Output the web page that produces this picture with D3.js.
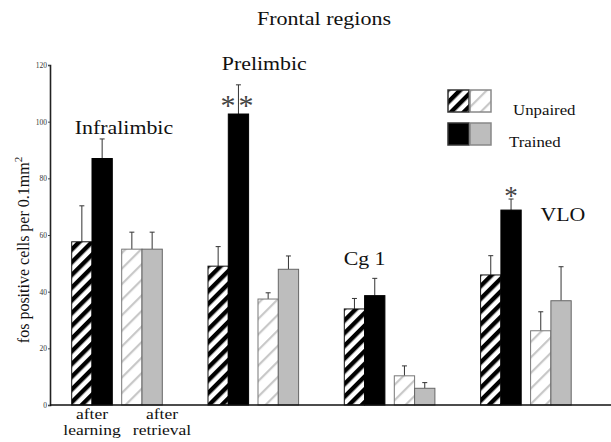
<!DOCTYPE html>
<html><head><meta charset="utf-8">
<script src="https://cdn.jsdelivr.net/npm/d3@7"></script>
<style>
body { margin: 0; background: #fff; }
svg { display: block; }
</style>
</head><body>
<svg id="chart" width="611" height="442"></svg>
<script>
// data
var regions = ["Infralimbic", "Prelimbic", "Cg 1", "VLO"];
var unpairedLearning = [57.6, 49.0, 33.9, 45.9];
var unpairedLearningErr = [12.7, 6.9, 3.7, 6.8];
var trainedLearning = [87.0, 102.7, 38.6, 68.8];
var trainedLearningErr = [6.9, 10.3, 6.1, 3.9];
var unpairedRetrieval = [55.0, 37.4, 10.3, 26.2];
var unpairedRetrievalErr = [6.0, 2.2, 3.5, 6.7];
var trainedRetrieval = [55.0, 47.9, 5.9, 36.8];
var trainedRetrievalErr = [6.0, 4.7, 2.0, 12.0];
var significance = ["", "**", "", "*"];
var yTicks = [0, 20, 40, 60, 80, 100, 120];
var phases = ["learning", "retrieval"];
var groups = ["unpaired", "trained"];
var phaseLabels = ["after learning", "after retrieval"];

var SERIF = "'Liberation Serif', 'Times New Roman', Times, serif";

var svg = d3.select('#chart').attr('font-family', SERIF);
var defs = svg.append('defs');

/* hatch patterns */
function hatch(id, period, width, color) {
    var p = defs.append('pattern')
        .attr('id', id)
        .attr('patternUnits', 'userSpaceOnUse')
        .attr('width', period).attr('height', period)
        .attr('patternTransform', 'rotate(45)');
    p.append('rect').attr('width', period).attr('height', period).attr('fill', '#fff');
    p.append('rect').attr('width', width).attr('height', period).attr('fill', color);
}
hatch('darkHatch', 9, 4.4, '#000');
hatch('lightHatch', 11, 2.2, '#c8c8c8');

var style = {
    learning: {
        unpaired: { fill: 'url(#darkHatch)', stroke: '#111' },
        trained: { fill: '#000', stroke: '#000' }
    },
    retrieval: {
        unpaired: { fill: 'url(#lightHatch)', stroke: '#777' },
        trained: { fill: '#bdbdbd', stroke: '#666' }
    }
};

var y = d3.scaleLinear().domain([0, 120]).range([405, 65]);
var xRegion = d3.scaleBand().domain(regions).range([71.7, 616.9]);
var xPhase = d3.scaleBand().domain(phases).range([0, 90.6]).paddingInner(0.188);
var xGroup = d3.scaleBand().domain(groups).range([0, xPhase.bandwidth()]);

var values = {
    learning: { unpaired: [unpairedLearning, unpairedLearningErr], trained: [trainedLearning, trainedLearningErr] },
    retrieval: { unpaired: [unpairedRetrieval, unpairedRetrievalErr], trained: [trainedRetrieval, trainedRetrievalErr] }
};

var bars = [];
regions.forEach(function (r, i) {
    phases.forEach(function (ph) {
        groups.forEach(function (g) {
            bars.push({ region: r, i: i, phase: ph, group: g,
                value: values[ph][g][0][i], err: values[ph][g][1][i] });
        });
    });
});

function barX(d) { return xRegion(d.region) + xPhase(d.phase) + xGroup(d.group); }

/* error bars first, bars on top */
var eb = svg.append('g').attr('stroke', '#333').attr('stroke-width', 1);
bars.forEach(function (d) {
    var cx = barX(d) + xGroup.bandwidth() / 2;
    eb.append('line').attr('x1', cx).attr('x2', cx)
        .attr('y1', y(d.value)).attr('y2', y(d.value + d.err));
    eb.append('line').attr('x1', cx - 2.5).attr('x2', cx + 2.5)
        .attr('y1', y(d.value + d.err)).attr('y2', y(d.value + d.err));
});

svg.append('g').selectAll('rect')
    .data(bars)
    .enter().append('rect')
    .attr('x', barX)
    .attr('y', function (d) { return y(d.value); })
    .attr('width', xGroup.bandwidth())
    .attr('height', function (d) { return y(0) - y(d.value); })
    .attr('fill', function (d) { return style[d.phase][d.group].fill; })
    .attr('stroke', function (d) { return style[d.phase][d.group].stroke; })
    .attr('stroke-width', 1);

/* axes */
var yAxis = svg.append('g')
    .attr('transform', 'translate(50,0)')
    .call(d3.axisLeft(y).tickValues(yTicks).tickSize(2).tickPadding(1));
yAxis.attr('font-family', SERIF);
yAxis.select('.domain').attr('stroke', '#222').attr('stroke-width', 1.6);
yAxis.selectAll('.tick line').attr('stroke', '#444');
yAxis.selectAll('.tick text')
    .attr('font-size', 7.5).attr('fill', '#333');

svg.append('line')
    .attr('x1', 50).attr('x2', 611)
    .attr('y1', y(0)).attr('y2', y(0))
    .attr('stroke', '#111').attr('stroke-width', 1.6);

/* stretch text horizontally to match the wide scanned type */
function widen(sel, k) {
    sel.each(function () {
        var w = this.getComputedTextLength();
        d3.select(this).attr('textLength', w * k).attr('lengthAdjust', 'spacingAndGlyphs');
    });
    return sel;
}

widen(svg.append('text')
    .attr('x', 324).attr('y', 25)
    .attr('text-anchor', 'middle')
    .attr('font-size', 19).attr('fill', '#111')
    .text('Frontal regions'), 1.16);

/* region labels: offset from the learning-pair centre */
var labelPos = [[32, 134], [36, 70], [0, 265], [62, 221]];
regions.forEach(function (r, i) {
    var cx = xRegion(r) + xPhase('learning') + xPhase.bandwidth() / 2;
    widen(svg.append('text')
        .attr('x', cx + labelPos[i][0]).attr('y', labelPos[i][1])
        .attr('text-anchor', 'middle')
        .attr('font-size', 19).attr('fill', '#111')
        .text(r), 1.15);
});

/* significance stars by the trained-learning bars */
var starDy = [0, 30, 0, 6];
regions.forEach(function (r, i) {
    if (!significance[i]) return;
    var cx = xRegion(r) + xPhase('learning') + xGroup('trained') + xGroup.bandwidth() / 2;
    svg.append('text')
        .attr('x', cx).attr('y', y(trainedLearning[i] + trainedLearningErr[i]) + starDy[i])
        .attr('text-anchor', 'middle')
        .attr('font-size', significance[i].length > 1 ? 30 : 27).attr('fill', '#444')
        .attr('letter-spacing', significance[i].length > 1 ? 3 : 0)
        .text(significance[i]);
});

/* phase labels under the first region */
phaseLabels.forEach(function (lbl, j) {
    var cx = [92, 162][j];
    var words = lbl.split(' ');
    widen(svg.append('text').attr('x', cx).attr('y', 419)
        .attr('text-anchor', 'middle').attr('font-size', 14).attr('fill', '#111')
        .text(words[0]), 1.25);
    widen(svg.append('text').attr('x', cx).attr('y', 435)
        .attr('text-anchor', 'middle').attr('font-size', 14).attr('fill', '#111')
        .text(words[1]), 1.25);
});

/* y axis title */
var yt = svg.append('text')
    .attr('transform', 'translate(29,250) rotate(-90)')
    .attr('text-anchor', 'middle')
    .attr('font-size', 16).attr('fill', '#111');
yt.append('tspan').text('fos positive cells per 0.1mm');
yt.append('tspan').attr('dy', -7).attr('font-size', 11).text('2');

/* legend */
var legend = svg.append('g');
var lrows = [
    { name: 'Unpaired', y: 90, fills: [style.learning.unpaired, style.retrieval.unpaired], tx: 513, ty: 115 },
    { name: 'Trained', y: 123, fills: [style.learning.trained, style.retrieval.trained], tx: 509, ty: 147 }
];
lrows.forEach(function (row) {
    row.fills.forEach(function (f, k) {
        legend.append('rect')
            .attr('x', 448 + k * 22).attr('y', row.y)
            .attr('width', 21).attr('height', 22)
            .attr('fill', f.fill).attr('stroke', k === 0 ? '#333' : '#888').attr('stroke-width', 1.5);
    });
    widen(legend.append('text').attr('x', row.tx).attr('y', row.ty)
        .attr('font-size', 15).attr('fill', '#111').text(row.name), 1.12);
});
</script>
</body></html>
